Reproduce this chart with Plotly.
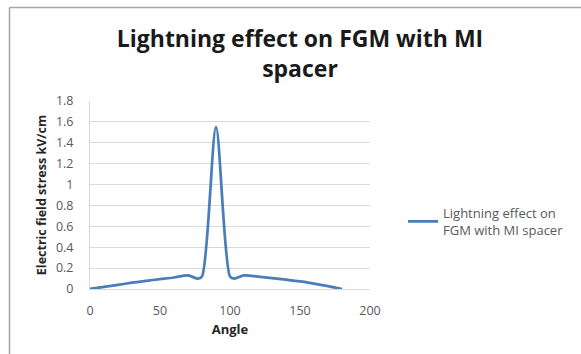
import plotly.graph_objects as go

# Electric field stress along the spacer surface under a lightning impulse
angle = [0, 10, 20, 30, 40, 50, 60, 70, 77, 80, 90, 100, 103, 110, 120, 130, 140, 150, 160, 170, 180]
stress = [0.0, 0.02, 0.04, 0.06, 0.078, 0.094, 0.11, 0.13, 0.1, 0.12, 1.55, 0.12, 0.1, 0.13, 0.118, 0.105, 0.09, 0.072, 0.052, 0.028, 0.0]

series_name = "Lightning effect on<br>FGM with MI spacer"
title_text = "Lightning effect on FGM with MI<br>spacer"
x_ticks = [0, 50, 100, 150, 200]
y_ticks = [0, 0.2, 0.4, 0.6, 0.8, 1, 1.2, 1.4, 1.6, 1.8]
y_tick_text = ["0", "0.2", "0.4", "0.6", "0.8", "1", "1.2", "1.4", "1.6", "1.8"]

W, H = 581, 354
L, R, T, B = 90, 211, 101, 65
pw, ph = W - L - R, H - T - B

def px_x(px):
    return (px - L) / pw

def px_y(py):
    return (H - B - py) / ph

font_family = "Open Sans, Noto Sans, sans-serif"
grey = "#595959"

fig = go.Figure()
fig.add_trace(go.Scatter(
    x=angle, y=stress, mode="lines", name=series_name,
    line=dict(color="#4a7ebb", width=2.75, shape="spline", smoothing=0.8),
))

fig.update_layout(
    width=W, height=H,
    margin=dict(l=L, r=R, t=T, b=B),
    paper_bgcolor="white", plot_bgcolor="white",
    font=dict(family=font_family, color=grey, size=12),
    title=dict(
        text="<b>" + title_text + "</b>",
        x=px_x(300), xref="paper", xanchor="center",
        y=1 - 47 / H, yref="container", yanchor="top",
        font=dict(size=23, color="#1a1a1a", family=font_family),
    ),
    showlegend=True,
    legend=dict(
        x=px_x(403), y=px_y(198), xanchor="left", yanchor="top",
        font=dict(size=13, color=grey), bgcolor="rgba(0,0,0,0)",
        itemwidth=30,
    ),
    xaxis=dict(
        range=[0, 200], tickvals=x_ticks, showgrid=False, zeroline=False,
        showline=True, linecolor="#d9d9d9", linewidth=1,
        ticks="", ticklabelstandoff=10,
        tickfont=dict(size=12.5, color=grey),
        title=dict(text="<b>Angle</b>", font=dict(size=13, color="#262626"), standoff=6),
    ),
    yaxis=dict(
        range=[0, 1.8], tickvals=y_ticks, ticktext=y_tick_text,
        showgrid=True, gridcolor="#d9d9d9", gridwidth=1, zeroline=False,
        showline=True, linecolor="#d9d9d9", linewidth=1,
        ticks="", ticklabelstandoff=13,
        tickfont=dict(size=12.5, color=grey),
        title=dict(text="<b>Electric field stress kV/cm</b>", font=dict(size=12.5, color="#262626"), standoff=6),
    ),
    shapes=[
        dict(type="line", xref="paper", yref="paper",
             x0=px_x(9.5), x1=px_x(W + 5), y0=px_y(7.5), y1=px_y(7.5),
             line=dict(color="#a6a6a6", width=1.5)),
        dict(type="line", xref="paper", yref="paper",
             x0=px_x(9.5), x1=px_x(9.5), y0=px_y(7.5), y1=px_y(H + 5),
             line=dict(color="#a6a6a6", width=1.5)),
    ],
)

fig.write_html("out.html")
